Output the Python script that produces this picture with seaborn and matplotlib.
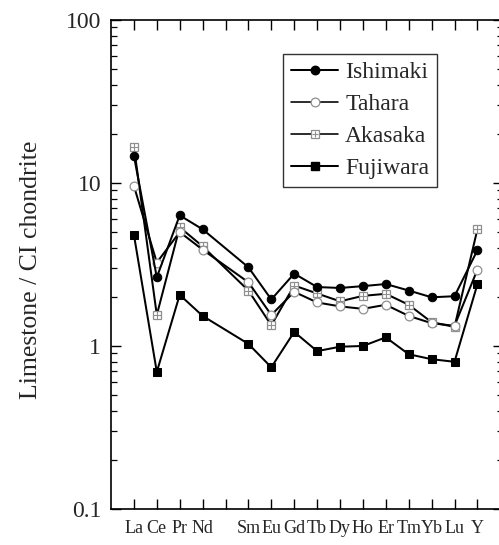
import numpy as np
import pandas as pd
import matplotlib
matplotlib.use("Agg")
import matplotlib.pyplot as plt
import seaborn as sns
from matplotlib.lines import Line2D
from matplotlib.ticker import FixedLocator, LogLocator, NullFormatter

elements = ["La", "Ce", "Pr", "Nd", "Sm", "Eu", "Gd", "Tb", "Dy", "Ho", "Er", "Tm", "Yb", "Lu", "Y"]
positions = [1, 2, 3, 4, 6, 7, 8, 9, 10, 11, 12, 13, 14, 15, 16]

ishimaki = [14.7, 2.64, 6.33, 5.2, 3.04, 1.93, 2.78, 2.30, 2.27, 2.33, 2.40, 2.19, 1.99, 2.02, 3.87]
tahara = [9.6, 3.25, 5.0, 3.9, 2.46, 1.55, 2.15, 1.85, 1.75, 1.69, 1.79, 1.53, 1.38, 1.33, 2.94]
akasaka = [16.7, 1.55, 5.35, 4.09, 2.19, 1.34, 2.35, 2.10, 1.88, 2.03, 2.09, 1.79, 1.40, 1.31, 5.2]
fujiwara = [4.82, 0.693, 2.06, 1.53, 1.03, 0.74, 1.22, 0.93, 0.99, 1.0, 1.13, 0.89, 0.83, 0.80, 2.39]

series_names = ["Ishimaki", "Tahara", "Akasaka", "Fujiwara"]

sns.set_theme(style="ticks")
plt.rcParams["font.family"] = ["Liberation Serif", "DejaVu Serif"]

fig = plt.figure(figsize=(4.99, 5.45), dpi=100)
# one x unit = 22.9 px; xlim 0..17.1
ax = fig.add_axes([111 / 499, 36 / 545, (17.1 * 22.9) / 499, 489 / 545])

gray = "#8f8f8f"
ms = 5.8
lw = 1.45

df = pd.DataFrame({"x": positions, "Ishimaki": ishimaki, "Tahara": tahara,
                   "Akasaka": akasaka, "Fujiwara": fujiwara})

# Fujiwara
sns.lineplot(data=df, x="x", y="Fujiwara", ax=ax, color="black", lw=lw,
             marker="s", markersize=ms, markerfacecolor="black",
             markeredgecolor="black", zorder=3)
# Akasaka
sns.lineplot(data=df, x="x", y="Akasaka", ax=ax, color="black", lw=lw,
             marker="s", markersize=ms + 0.6, markerfacecolor="white",
             markeredgecolor=gray, markeredgewidth=0.9, zorder=4)
sns.scatterplot(data=df, x="x", y="Akasaka", ax=ax, marker="+", s=28,
                color=gray, linewidth=0.8, zorder=5)
# Tahara
sns.lineplot(data=df, x="x", y="Tahara", ax=ax, color="black", lw=lw,
             marker="o", markersize=ms + 0.5, markerfacecolor="white",
             markeredgecolor=gray, markeredgewidth=0.9, zorder=6)
# Ishimaki
sns.lineplot(data=df, x="x", y="Ishimaki", ax=ax, color="black", lw=lw,
             marker="o", markersize=ms + 0.3, markerfacecolor="black",
             markeredgecolor="black", zorder=7)

ax.set_yscale("log")
ax.set_ylim(0.1, 100)
ax.set_xlim(0, 17.1)

ax.xaxis.set_major_locator(FixedLocator(list(range(1, 17))))
tick_labels = []
for p in range(1, 17):
    tick_labels.append(elements[positions.index(p)] if p in positions else "")
ax.set_xticklabels(tick_labels, fontsize=13)

ax.yaxis.set_major_locator(FixedLocator([0.1, 1, 10, 100]))
ax.set_yticklabels(["0.1", "1", "10", "100"], fontsize=17)
ax.yaxis.set_minor_locator(LogLocator(base=10, subs=np.arange(2, 10)))
ax.yaxis.set_minor_formatter(NullFormatter())

ax.tick_params(axis="both", which="major", direction="in", length=7, width=1.0,
               color="black", top=True, right=True)
ax.tick_params(axis="y", which="minor", direction="in", length=4, width=0.9,
               color="black", right=True, left=True)
ax.tick_params(axis="x", which="major", pad=8)
ax.tick_params(axis="y", which="major", pad=7)

for sp in ax.spines.values():
    sp.set_color("black")
    sp.set_linewidth(1.2)
    sp.set_visible(True)

ax.set_xlabel("")
ax.set_ylabel("Limestone / CI chondrite", fontsize=18.5)
ax.yaxis.set_label_coords(-0.175, 0.489)
ax.grid(False)
ax.set_facecolor("white")

h_ish = Line2D([], [], color="black", lw=lw, marker="o", markersize=ms + 0.3,
               markerfacecolor="black", markeredgecolor="black")
h_tah = Line2D([], [], color="black", lw=lw * 0.8, marker="o", markersize=ms + 0.5,
               markerfacecolor="white", markeredgecolor=gray, markeredgewidth=0.9)
h_aka1 = Line2D([], [], color="black", lw=lw * 0.8, marker="s", markersize=ms + 0.6,
                markerfacecolor="white", markeredgecolor=gray, markeredgewidth=0.9)
h_aka2 = Line2D([], [], lw=0, marker="+", markersize=5, color=gray,
                markeredgewidth=0.8)
h_fuj = Line2D([], [], color="black", lw=lw, marker="s", markersize=ms,
               markerfacecolor="black", markeredgecolor="black")

# legend anchored in pixel-derived axes fraction (right edge 437 px, top 54 px)
ax_w = 17.1 * 22.9
leg = ax.legend([h_ish, h_tah, (h_aka1, h_aka2), h_fuj], series_names,
                loc="upper right", bbox_to_anchor=((437 - 111) / ax_w, (509 - 54) / 489),
                fontsize=17, frameon=True, fancybox=False, edgecolor="black",
                handlelength=2.0, handletextpad=0.3, labelspacing=0.44,
                borderpad=0.33, borderaxespad=0.0)
leg.get_frame().set_linewidth(1.0)

fig.savefig("out.png", dpi=100, facecolor="white")
